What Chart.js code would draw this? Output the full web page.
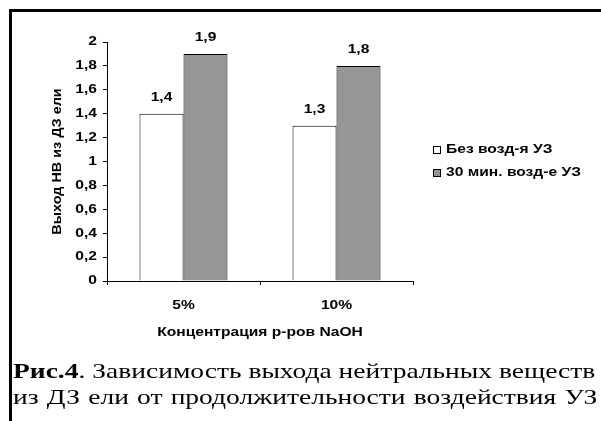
<!DOCTYPE html>
<html>
<head>
<meta charset="utf-8">
<script src="https://cdn.jsdelivr.net/npm/chart.js@4"></script>
<style>
  html, body { margin: 0; padding: 0; background: #fff; }
  #wrap { position: relative; width: 601px; height: 421px; overflow: hidden; }
  #chart { position: absolute; left: 0; top: 0; }
  #frame {
    position: absolute; left: 9px; top: 9px; right: 0; bottom: 0;
    border-left: 3px solid #000; border-top: 3px solid #000;
    pointer-events: none;
  }
  #caption {
    position: absolute; left: 13px; top: 358px;
    font-family: "Liberation Serif", "Times New Roman", serif;
    font-size: 21px; line-height: 26px; color: #000; white-space: nowrap;
    transform: scaleX(1.31); transform-origin: 0 0;
  }
  #caption .second { word-spacing: 1px; }
</style>
</head>
<body>
<div id="wrap">
  <canvas id="chart" width="601" height="421"></canvas>
  <div id="frame"></div>
  <div id="caption"><b>Рис.4</b>. Зависимость выхода нейтральных веществ<br><span class="second">из ДЗ ели от продолжительности воздействия УЗ</span></div>
</div>
<script>
const categories = ['5%', '10%'];
const seriesNames = ['Без возд-я УЗ', '30 мин. возд-е УЗ'];
const withoutUS = [1.4, 1.3];
const withUS30 = [1.9, 1.8];
const yTicks = [0, 0.2, 0.4, 0.6, 0.8, 1, 1.2, 1.4, 1.6, 1.8, 2];

const FONT = 'Liberation Sans';
const fmt = v => String(Math.round(v * 10) / 10).replace('.', ',');

// widen every label drawn on the canvas around its anchor point
// (rotated text, i.e. the y title, a bit less)
const wideText = {
    id: 'wideText',
    beforeInit(chart) {
        const ctx = chart.ctx;
        const fill = ctx.fillText.bind(ctx);
        ctx.fillText = (text, x, y) => {
            const rotated = ctx.getTransform().b !== 0;
            ctx.save();
            ctx.translate(x, y);
            ctx.scale(rotated ? 1.2 : 1.3, 1);
            fill(text, 0, 0);
            ctx.restore();
        };
    }
};

// value labels above each bar
const barValues = {
    id: 'barValues',
    afterDatasetsDraw(chart) {
        const ctx = chart.ctx;
        ctx.save();
        ctx.font = 'bold 12px "' + FONT + '"';
        ctx.fillStyle = '#000';
        ctx.textAlign = 'center';
        ctx.textBaseline = 'middle';
        chart.data.datasets.forEach((ds, i) => {
            chart.getDatasetMeta(i).data.forEach((bar, j) => {
                ctx.fillText(fmt(ds.data[j]), bar.x, bar.y - 16);
            });
        });
        ctx.restore();
    }
};

// legend on the right, drawn from the datasets
const sideLegend = {
    id: 'sideLegend',
    afterDraw(chart) {
        const ctx = chart.ctx;
        ctx.save();
        ctx.font = 'bold 12px "' + FONT + '"';
        ctx.textBaseline = 'middle';
        chart.data.datasets.forEach((ds, i) => {
            const y = 150 + i * 23;
            ctx.fillStyle = ds.backgroundColor;
            ctx.fillRect(433.5, y - 3.5, 7, 7);
            ctx.strokeStyle = '#000';
            ctx.lineWidth = 1;
            ctx.strokeRect(433.5, y - 3.5, 7, 7);
            ctx.fillStyle = '#000';
            ctx.fillText(ds.label, 446, y);
        });
        ctx.restore();
    }
};

const ctx = document.getElementById('chart').getContext('2d');
new Chart(ctx, {
    type: 'bar',
    data: {
        labels: categories,
        datasets: [{
            label: seriesNames[0],
            data: withoutUS,
            backgroundColor: '#ffffff',
            borderColor: '#000000',
            borderWidth: 1
        }, {
            label: seriesNames[1],
            data: withUS30,
            backgroundColor: '#969696',
            borderColor: '#000000',
            borderWidth: 1
        }]
    },
    options: {
        responsive: false,
        animation: false,
        devicePixelRatio: 1,
        layout: { padding: { left: 0, top: 42, right: 188, bottom: 80 } },
        datasets: { bar: { categoryPercentage: 0.575, barPercentage: 1 } },
        plugins: { legend: { display: false }, tooltip: { enabled: false } },
        scales: {
            x: {
                afterFit(scale) { scale.height = 60; },
                grid: { drawOnChartArea: false, tickLength: 4, color: '#000', offset: true },
                border: { color: '#000', width: 1 },
                ticks: { color: '#000', padding: 13, font: { family: FONT, size: 12, weight: 'bold' } },
                title: {
                    display: true, text: 'Концентрация р-ров NaOH', color: '#000',
                    padding: { top: 0, bottom: 1 },
                    font: { family: FONT, size: 12, weight: 'bold' }
                }
            },
            y: {
                min: 0, max: 2,
                afterFit(scale) { scale.width = 107; },
                afterBuildTicks(scale) { scale.ticks = yTicks.map(v => ({ value: v })); },
                grid: { drawOnChartArea: false, tickLength: 4, color: '#000' },
                border: { color: '#000', width: 1 },
                ticks: {
                    color: '#000', padding: 6,
                    font: { family: FONT, size: 12, weight: 'bold' },
                    callback: v => fmt(v)
                },
                title: {
                    display: true, text: 'Выход НВ из ДЗ ели', color: '#000',
                    padding: { top: 50, bottom: 0 },
                    font: { family: FONT, size: 12, weight: 'bold' }
                }
            }
        }
    },
    plugins: [wideText, barValues, sideLegend]
});
</script>
</body>
</html>
